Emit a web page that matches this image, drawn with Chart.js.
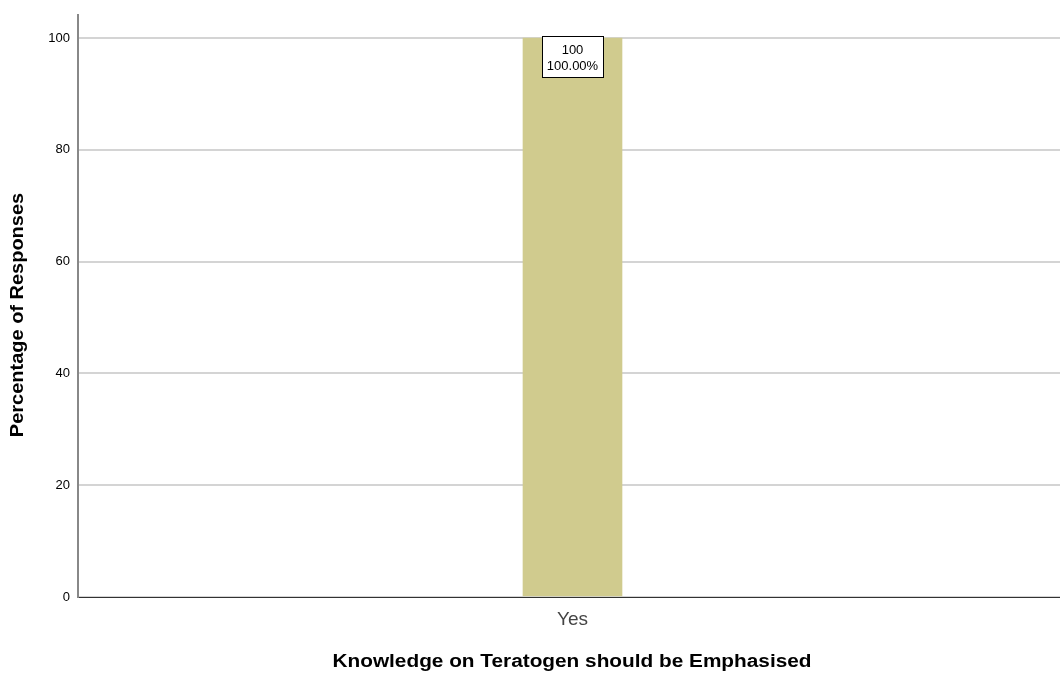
<!DOCTYPE html>
<html>
<head>
<meta charset="utf-8">
<script src="https://cdn.jsdelivr.net/npm/chart.js@4"></script>
<style>
html,body{margin:0;padding:0;background:#fff;}
#wrap{width:1060px;height:677px;position:relative;overflow:hidden;}
canvas{display:block;}
</style>
</head>
<body>
<div id="wrap"><canvas id="c" width="1067" height="677"></canvas></div>
<script>
const categories = ["Yes"];
const percentValues = [100];
const countValues = [100];
const yTicks = [0, 20, 40, 60, 80, 100];
const xTitle = "Knowledge on Teratogen should be Emphasised";
const yTitle = "Percentage of Responses";

const FONT = "'Liberation Sans', Arial, sans-serif";

const overlay = {
  id: 'overlay',
  afterDatasetsDraw(chart) {
    const ctx = chart.ctx;
    const meta = chart.getDatasetMeta(0);
    ctx.save();
    meta.data.forEach((bar, i) => {
      const lines = [String(countValues[i]), percentValues[i].toFixed(2) + '%'];
      ctx.font = '13px ' + FONT;
      const w = 61, h = 41;
      const x = Math.round(bar.x - w / 2) + 0.5;
      const y = Math.round(bar.y) - 1.5;
      ctx.fillStyle = '#ffffff';
      ctx.fillRect(x, y, w, h);
      ctx.strokeStyle = '#000000';
      ctx.lineWidth = 1;
      ctx.strokeRect(x, y, w, h);
      ctx.fillStyle = '#000000';
      ctx.textAlign = 'center';
      ctx.textBaseline = 'middle';
      ctx.fillText(lines[0], bar.x, y + 13.5);
      ctx.fillText(lines[1], bar.x, y + 30);
    });
    ctx.restore();
  },
  afterDraw(chart) {
    const ctx = chart.ctx;
    ctx.save();
    ctx.fillStyle = '#000000';
    ctx.font = 'bold 18px ' + FONT;
    ctx.textAlign = 'center';
    ctx.textBaseline = 'middle';
    ctx.save();
    ctx.translate(572, 662);
    ctx.scale(1.155, 1);
    ctx.fillText(xTitle, 0, 0);
    ctx.restore();
    ctx.save();
    ctx.translate(18, 315);
    ctx.rotate(-Math.PI / 2);
    ctx.scale(1.11, 1);
    ctx.fillText(yTitle, 0, 0);
    ctx.restore();
    ctx.restore();
  }
};

new Chart(document.getElementById('c'), {
  type: 'bar',
  data: {
    labels: categories,
    datasets: [{
      data: percentValues,
      backgroundColor: '#d0cb8e',
      borderWidth: 0,
      barThickness: 99
    }]
  },
  options: {
    responsive: false,
    animation: false,
    events: [],
    layout: { autoPadding: false, padding: { top: 9, right: 0, left: 0, bottom: 0 } },
    plugins: { legend: { display: false }, tooltip: { enabled: false } },
    scales: {
      x: {
        grid: { display: false, drawTicks: false },
        border: { display: true, color: '#333333', width: 1 },
        ticks: { color: '#444444', font: { size: 19, family: FONT }, padding: 11 },
        afterFit(s) { s.height = 80; }
      },
      y: {
        min: 0,
        max: 104.2,
        grid: { color: '#d4d4d4', lineWidth: 2, drawTicks: false },
        border: { display: true, color: '#888888', width: 2 },
        ticks: { color: '#000000', font: { size: 13, family: FONT, lineHeight: 1 }, padding: 8, stepSize: 20 },
        afterBuildTicks(s) { s.ticks = yTicks.map(v => ({ value: v })); },
        afterFit(s) { s.width = 78; }
      }
    }
  },
  plugins: [overlay]
});
</script>
</body>
</html>
